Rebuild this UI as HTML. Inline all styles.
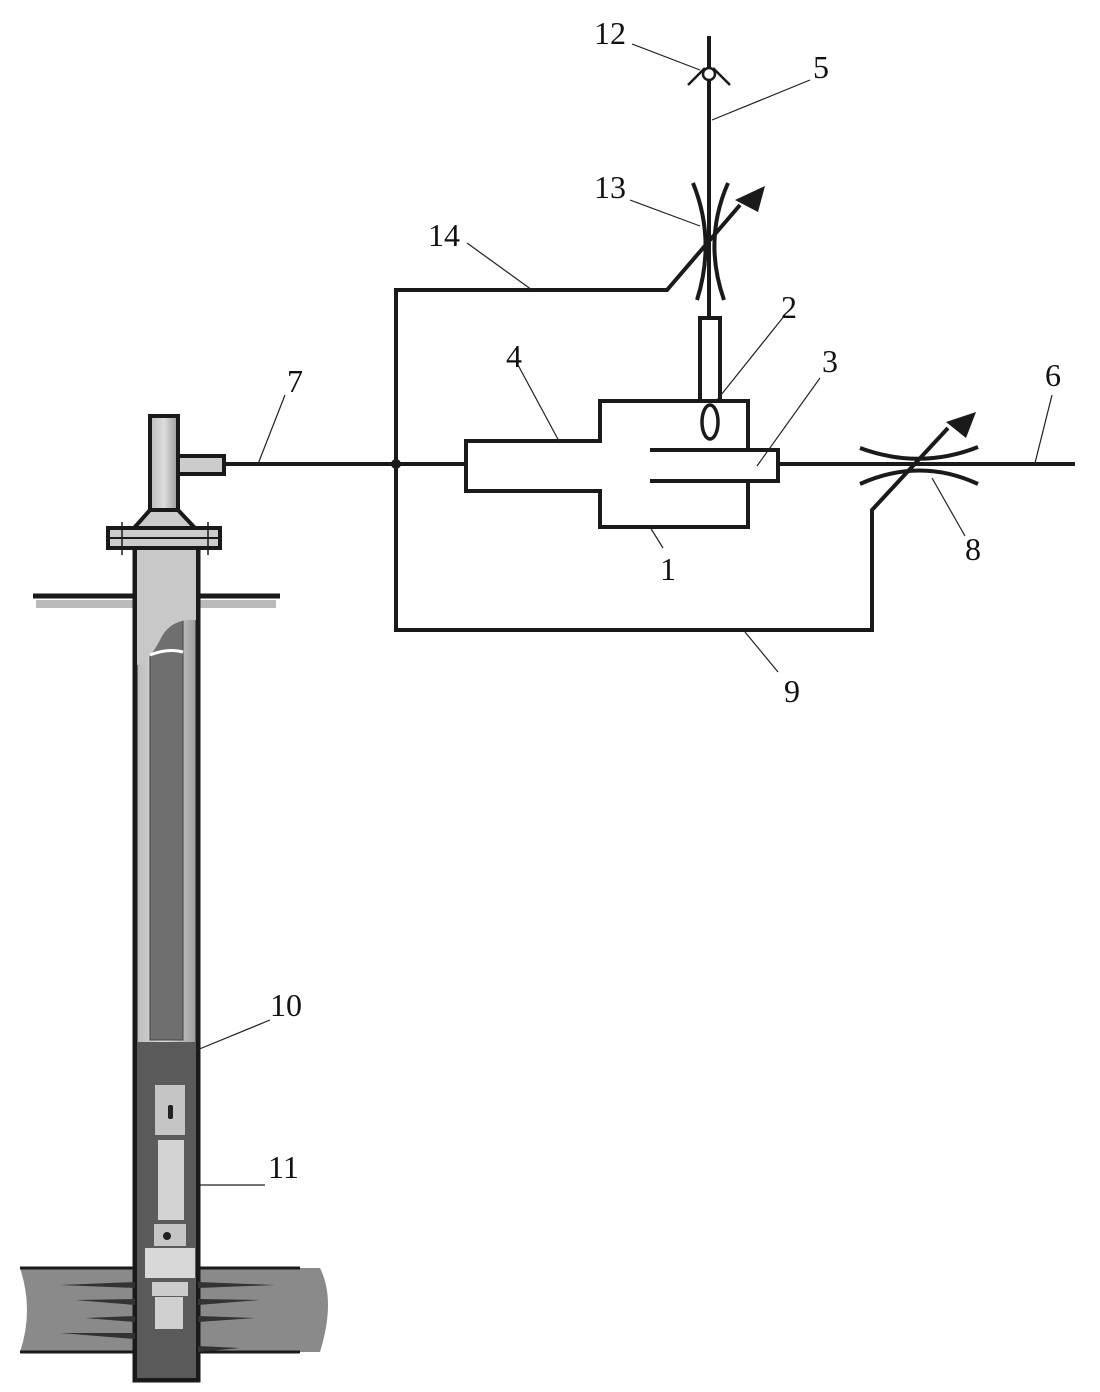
<!DOCTYPE html>
<html><head><meta charset="utf-8"><style>
html,body{margin:0;padding:0;background:#fff;}
svg{display:block}
text{font-family:"Liberation Serif",serif;font-size:32px;fill:#111}
</style></head><body>
<svg width="1100" height="1392" viewBox="0 0 1100 1392" xmlns="http://www.w3.org/2000/svg">
<defs>
<linearGradient id="g1" x1="0" x2="1"><stop offset="0" stop-color="#bbb"/><stop offset="0.5" stop-color="#ddd"/><stop offset="1" stop-color="#999"/></linearGradient>
</defs>
<g stroke="#1a1a1a" fill="none" stroke-width="4">
<!-- formation -->
<path d="M20 1268 L320 1268 Q336 1300 320 1352 L20 1352 Q34 1310 20 1268 Z" fill="#8a8a8a" stroke="none"/>
<line x1="20" y1="1268" x2="300" y2="1268" stroke-width="3"/>
<line x1="20" y1="1352" x2="300" y2="1352" stroke-width="3"/>
<!-- ground -->
<line x1="33" y1="596" x2="280" y2="596" stroke-width="5"/>
<rect x="36" y="600" width="240" height="8" fill="#bbb" stroke="none"/>
<!-- casing -->
<rect x="135" y="548" width="63" height="832" fill="url(#g1)" stroke-width="5"/>
<rect x="150" y="620" width="33" height="420" fill="#6f6f6f" stroke="#444" stroke-width="1"/>
<rect x="137" y="1042" width="59" height="336" fill="#5a5a5a" stroke="none"/>
<path d="M137 548 L196 548 L196 620 Q170 618 160 640 Q150 660 137 665 Z" fill="#c8c8c8" stroke="none"/>
<path d="M150 655 Q168 648 183 652" stroke="#fff" stroke-width="3"/>
<!-- tool -->
<rect x="155" y="1085" width="30" height="50" fill="#c5c5c5" stroke="none"/>
<rect x="168" y="1105" width="5" height="14" rx="2" fill="#222" stroke="none"/>
<rect x="158" y="1140" width="26" height="80" fill="#d2d2d2" stroke="none"/>
<rect x="154" y="1224" width="32" height="22" fill="#c5c5c5" stroke="none"/>
<circle cx="167" cy="1236" r="4" fill="#222" stroke="none"/>
<rect x="145" y="1248" width="50" height="30" fill="#d8d8d8" stroke="none"/>
<rect x="152" y="1282" width="36" height="14" fill="#ccc" stroke="none"/>
<rect x="155" y="1297" width="28" height="32" fill="#d0d0d0" stroke="none"/>
<!-- perforations -->
<g fill="#333" stroke="none">
<path d="M60 1285 L135 1282 L135 1288 Z"/><path d="M75 1300 L135 1299 L135 1305 Z"/><path d="M85 1318 L135 1316 L135 1322 Z"/><path d="M60 1333 L135 1333 L135 1339 Z"/>
<path d="M275 1285 L198 1282 L198 1288 Z"/><path d="M260 1300 L198 1299 L198 1305 Z"/><path d="M255 1318 L198 1316 L198 1322 Z"/><path d="M240 1348 L198 1346 L198 1352 Z"/>
</g>
<!-- wellhead -->
<rect x="150" y="416" width="28" height="112" fill="url(#g1)"/>
<rect x="178" y="456" width="46" height="18" fill="#ccc"/>
<path d="M150 510 L178 510 L195 528 L134 528 Z" fill="#ccc"/>
<rect x="108" y="528" width="112" height="20" fill="#ccc"/>
<line x1="108" y1="538" x2="220" y2="538" stroke-width="2"/>
<line x1="122" y1="522" x2="122" y2="555" stroke-width="1.5"/>
<line x1="208" y1="522" x2="208" y2="555" stroke-width="1.5"/>
<!-- pipes -->
<line x1="224" y1="464" x2="466" y2="464"/>
<line x1="778" y1="464" x2="1075" y2="464"/>
<polyline points="396,464 396,630 872,630 872,510 948,428"/>
<polyline points="396,464 396,290 667,290 740,205"/>
<circle cx="396" cy="464" r="3" fill="#1a1a1a"/>
<line x1="709" y1="36" x2="709" y2="318"/>
<!-- boxes -->
<path d="M748 450 L748 401 L600 401 L600 441 L466 441 L466 491 L600 491 L600 527 L748 527 L748 481"/>
<path d="M650 450 L778 450 L778 481 L650 481"/>
<rect x="700" y="318" width="20" height="83" fill="#fff"/>
<ellipse cx="710" cy="422" rx="8" ry="17" stroke-width="3.5"/>
<!-- valve 13 -->
<path d="M693 183 Q716 240 697 300"/>
<path d="M728 183 Q703 240 724 300"/>
<polygon points="765,186 758,212 735,200" fill="#1a1a1a" stroke="none"/>
<!-- valve 8 -->
<path d="M860 448 Q920 470 978 447"/>
<path d="M860 484 Q920 457 978 484"/>
<polygon points="976,412 966,438 946,422" fill="#1a1a1a" stroke="none"/>
<!-- check 12 -->
<circle cx="709" cy="74" r="6" fill="#fff" stroke-width="2.5"/>
<path d="M688 85 L705 68 M730 85 L713 68" stroke-width="2.5"/>
</g>
<!-- leaders -->
<g stroke="#222" stroke-width="1.2">
<line x1="632" y1="44" x2="700" y2="70"/>
<line x1="712" y1="120" x2="810" y2="80"/>
<line x1="630" y1="200" x2="700" y2="226"/>
<line x1="467" y1="243" x2="532" y2="290"/>
<line x1="717" y1="400" x2="785" y2="315"/>
<line x1="560" y1="443" x2="518" y2="365"/>
<line x1="757" y1="466" x2="820" y2="378"/>
<line x1="650" y1="527" x2="663" y2="548"/>
<line x1="932" y1="478" x2="965" y2="536"/>
<line x1="258" y1="464" x2="285" y2="395"/>
<line x1="1035" y1="463" x2="1052" y2="395"/>
<line x1="745" y1="632" x2="778" y2="672"/>
<line x1="197" y1="1050" x2="270" y2="1020"/>
<line x1="200" y1="1185" x2="265" y2="1185"/>
</g>
<g>
<text x="594" y="44">12</text>
<text x="813" y="78">5</text>
<text x="594" y="198">13</text>
<text x="428" y="246">14</text>
<text x="781" y="318">2</text>
<text x="822" y="372">3</text>
<text x="1045" y="386">6</text>
<text x="506" y="367">4</text>
<text x="287" y="392">7</text>
<text x="660" y="580">1</text>
<text x="965" y="560">8</text>
<text x="784" y="702">9</text>
<text x="270" y="1016">10</text>
<text x="268" y="1178">11</text>
</g>
</svg>
</body></html>
